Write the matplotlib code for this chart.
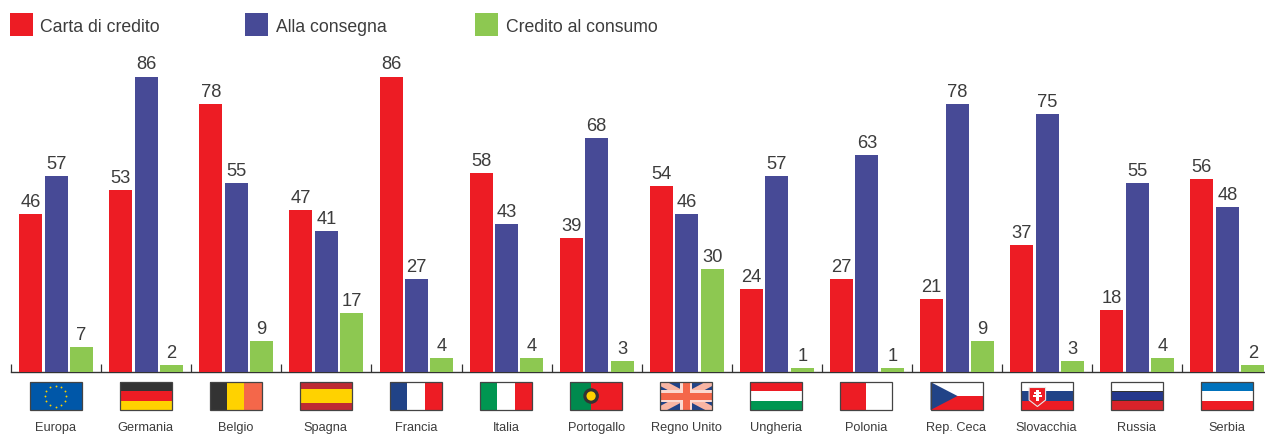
import numpy as np
import matplotlib
matplotlib.use("Agg")
import matplotlib.pyplot as plt
from matplotlib.patches import Rectangle, Polygon, Circle

countries = ["Europa", "Germania", "Belgio", "Spagna", "Francia", "Italia", "Portogallo",
             "Regno Unito", "Ungheria", "Polonia", "Rep. Ceca", "Slovacchia", "Russia", "Serbia"]
carta = [46, 53, 78, 47, 86, 58, 39, 54, 24, 27, 21, 37, 18, 56]
consegna = [57, 86, 55, 41, 27, 43, 68, 46, 57, 63, 78, 75, 55, 48]
consumo = [7, 2, 9, 17, 4, 4, 3, 30, 1, 1, 9, 3, 4, 2]
series_names = ["Carta di credito", "Alla consegna", "Credito al consumo"]

RED, BLUE, GREEN = "#ED1C24", "#474A96", "#8DC851"
INK = "#3C3C3C"
W, H = 1265, 434
plt.rcParams["font.family"] = ["Liberation Sans", "DejaVu Sans"]

fig = plt.figure(figsize=(W / 100, H / 100), dpi=100, facecolor="white")

# Chart axes: one x unit per country, baseline about 371.5 px from the top.
pitch = 90.1
x0 = 11.0
base_px = 371.5
px_per_unit = 3.43
ax = fig.add_axes([x0 / W, (H - base_px) / H, (W - x0) / W, base_px / H])
ax.set_xlim(-0.5, -0.5 + (W - x0) / pitch)
ax.set_ylim(0, base_px / px_per_unit)
ax.patch.set_alpha(0)
for s in ("top", "left", "right"):
    ax.spines[s].set_visible(False)
ax.spines["bottom"].set_color("#333333")
ax.spines["bottom"].set_linewidth(1.0)
ax.set_yticks([])
ax.set_xticks(np.arange(len(countries)) - 0.5)
ax.set_xticklabels([])
ax.tick_params(axis="x", direction="in", length=5.6, width=0.9, color="#333333")

bar_w = 23 / pitch
step = 25.4 / pitch
xs = np.arange(len(countries))
for off, vals, col, name in zip((-step, 0, step), (carta, consegna, consumo),
                                (RED, BLUE, GREEN), series_names):
    bars = ax.bar(xs + off, vals, width=bar_w, color=col, linewidth=0, label=name, zorder=3)
    ax.bar_label(bars, labels=[str(v) for v in vals], padding=2.2, fontsize=13.2, color=INK)

# Overlay in pixel units for the legend, flags and country names.
ov = fig.add_axes([0, 0, 1, 1])
ov.set_xlim(0, W)
ov.set_ylim(H, 0)
ov.axis("off")
ov.patch.set_alpha(0)

for lx, tx, col, name in zip((10, 245, 475), (40, 276, 506), (RED, BLUE, GREEN), series_names):
    ov.add_patch(Rectangle((lx, 13), 23, 23, color=col, lw=0))
    ov.text(tx, 32, name, fontsize=12.7, color=INK, va="baseline", ha="left")


def rect(l, t, x, y, w, h, c, z=2):
    ov.add_patch(Rectangle((l + x, t + y), w, h, facecolor=c, edgecolor="none", lw=0, zorder=z))


def hstripes(l, t, cols, fw=52, fh=28):
    for k, c in enumerate(cols):
        rect(l, t, 0, k * fh / len(cols), fw, fh / len(cols), c)


def vstripes(l, t, cols, fw=52, fh=28):
    for k, c in enumerate(cols):
        rect(l, t, k * fw / len(cols), 0, fw / len(cols), fh, c)


def draw_flag(name, l, t, fw=52, fh=28):
    if name == "Europa":
        rect(l, t, 0, 0, fw, fh, "#0057A8")
        a = np.arange(12) * np.pi / 6
        ov.scatter(l + fw / 2 + 10.5 * np.cos(a), t + fh / 2 + 10.5 * np.sin(a),
                   s=1.8, c="#FFD200", linewidths=0, zorder=3)
    elif name == "Germania":
        hstripes(l, t, ["#333333", RED, "#FFD200"])
    elif name == "Belgio":
        vstripes(l, t, ["#333333", "#FFD200", "#F4674A"])
    elif name == "Spagna":
        rect(l, t, 0, 0, fw, fh, "#BE2A33")
        rect(l, t, 0, 7, fw, 14, "#FFD200")
    elif name == "Francia":
        vstripes(l, t, ["#214387", "white", RED])
    elif name == "Italia":
        vstripes(l, t, ["#009651", "white", RED])
    elif name == "Portogallo":
        rect(l, t, 0, 0, 21, fh, "#008A4E")
        rect(l, t, 21, 0, fw - 21, fh, RED)
        ov.add_patch(Circle((l + 21, t + 14), 7.8, facecolor="#333333", lw=0, zorder=3))
        ov.add_patch(Circle((l + 21, t + 14), 4.6, facecolor="#FFD200", lw=0, zorder=3))
    elif name == "Regno Unito":
        rect(l, t, 0, 0, fw, fh, "#214387")
        for pts in ([(0, 0), (7, 0), (fw, fh - 4), (fw, fh), (fw - 7, fh), (0, 4)],
                    [(fw, 0), (fw - 7, 0), (0, fh - 4), (0, fh), (7, fh), (fw, 4)]):
            ov.add_patch(Polygon([(l + a, t + b) for a, b in pts], facecolor="#F8B5A3", lw=0, zorder=2))
        rect(l, t, fw / 2 - 6, 0, 12, fh, "#FBD9D0", 2.1)
        rect(l, t, 0, fh / 2 - 6, fw, 12, "#FBD9D0", 2.1)
        rect(l, t, fw / 2 - 3.5, 0, 7, fh, "#F4674A", 2.2)
        rect(l, t, 0, fh / 2 - 3.5, fw, 7, "#F4674A", 2.2)
    elif name == "Ungheria":
        hstripes(l, t, [RED, "white", "#009651"])
    elif name == "Polonia":
        vstripes(l, t, [RED, "white"])
    elif name == "Rep. Ceca":
        rect(l, t, 0, 0, fw, fh / 2, "white")
        rect(l, t, 0, fh / 2, fw, fh / 2, RED)
        ov.add_patch(Polygon([(l, t), (l + 27, t + fh / 2), (l, t + fh)],
                             facecolor="#214387", lw=0, zorder=2.5))
    elif name == "Slovacchia":
        hstripes(l, t, ["white", "#214387", RED])
        ov.add_patch(Polygon([(l + 8.5, t + 5.5), (l + 25, t + 5.5), (l + 25, t + 18), (l + 16.8, t + 24.5),
                              (l + 8.5, t + 18)],
                             facecolor=RED, edgecolor="#E8E8E8", lw=0.8, zorder=3))
        rect(l, t, 15.3, 7.5, 3, 11, "white", 3.1)
        rect(l, t, 13, 9.5, 7.6, 2, "white", 3.1)
        rect(l, t, 12.3, 13, 9, 2, "white", 3.1)
    elif name == "Russia":
        hstripes(l, t, ["white", "#26388C", "#D9232A"])
        rect(l, t, 0, fh / 3 - 0.5, fw, 1, "#333333", 2.5)
        rect(l, t, 0, 2 * fh / 3 - 0.5, fw, 1, "#333333", 2.5)
    elif name == "Serbia":
        hstripes(l, t, ["#0072BC", "white", RED])
    ov.add_patch(Rectangle((l, t), fw, fh, fill=False, edgecolor="#444444", lw=0.9, zorder=4))


for i, name in enumerate(countries):
    cx = 55.5 + pitch * i
    draw_flag(name, cx - 26, 382)
    ov.text(cx, 431, name, fontsize=9.2, color=INK, ha="center", va="baseline")

fig.savefig("out.png", dpi=100, facecolor="white")
